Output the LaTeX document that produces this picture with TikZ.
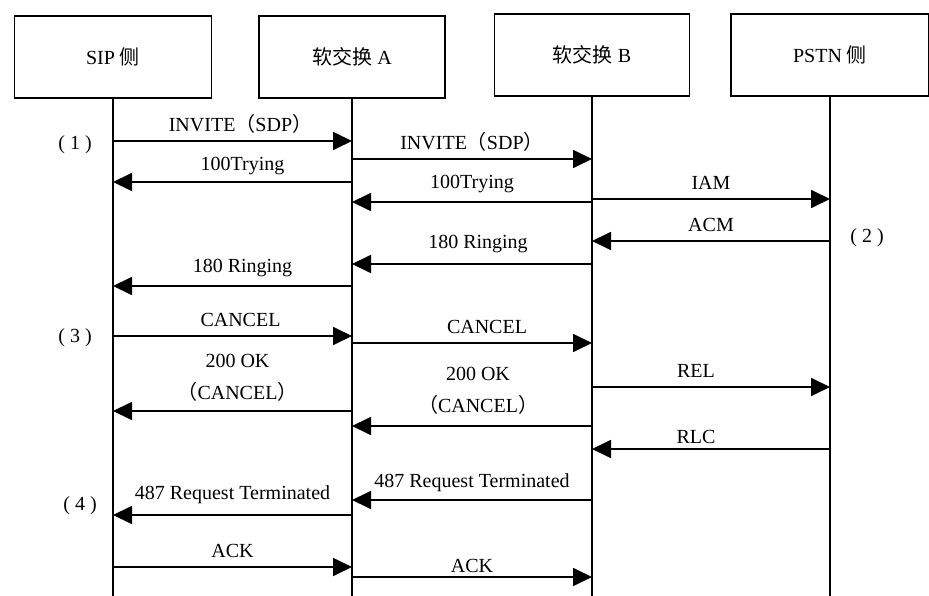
\documentclass[tikz,border=0pt]{standalone}
\usepackage{fontspec}
\setmainfont{Liberation Serif}
\newfontfamily\cjk{Noto Sans CJK SC}
\usetikzlibrary{arrows.meta}
\newcommand{\lpar}{{\cjk （}}
\newcommand{\rpar}{{\cjk ）}}
\begin{document}
\begin{tikzpicture}[x=1pt,y=-1pt,
  every node/.style={font=\fontsize{20}{32}\selectfont},
  party/.style={draw,line width=1.3pt,minimum height=82pt},
  life/.style={line width=1.4pt},
  msg/.style={line width=1.8pt,-{Triangle[length=19pt,width=18pt]}},
  lbl/.style={above=3pt,inner sep=2pt,text height=13pt,text depth=4pt},
  lbltwo/.style={above=3pt,inner sep=2pt,align=center}]
\useasboundingbox (0,0) rectangle (929,596);
\node[party,minimum width=197pt] (sip) at (113,57) {SIP {\cjk 侧}};
\node[party,minimum width=186pt] (swa) at (352,57) {{\cjk 软交换} A};
\node[party,minimum width=195pt] (swb) at (592,55) {{\cjk 软交换} B};
\node[party,minimum width=198pt] (pstn) at (830,55) {PSTN {\cjk 侧}};
\foreach \p in {sip,swa,swb,pstn}
  \draw[life] (\p.south) -- (\p |- 0,596);
\node (n1) at (75,145) {( 1 )};
\node (n2) at (867,238) {( 2 )};
\node (n3) at (75,338) {( 3 )};
\node (n4) at (80,506) {( 4 )};
\draw[msg] (sip |- 0,141) -- node[lbl,xshift=8pt] {INVITE\lpar SDP\rpar} (swa |- 0,141);
\draw[msg] (swa |- 0,159) -- node[lbl] {INVITE\lpar SDP\rpar} (swb |- 0,159);
\draw[msg] (swa |- 0,182) -- node[lbl,xshift=10pt,yshift=2pt] {100Trying} (sip |- 0,182);
\draw[msg] (swb |- 0,202) -- node[lbl,yshift=4pt] {100Trying} (swa |- 0,202);
\draw[msg] (swb |- 0,199) -- node[lbl] {IAM} (pstn |- 0,199);
\draw[msg] (pstn |- 0,241) -- node[lbl] {ACM} (swb |- 0,241);
\draw[msg] (swb |- 0,264) -- node[lbl,xshift=6pt,yshift=6pt] {180 Ringing} (swa |- 0,264);
\draw[msg] (swa |- 0,286) -- node[lbl,xshift=10pt,yshift=4pt] {180 Ringing} (sip |- 0,286);
\draw[msg] (sip |- 0,336) -- node[lbl,xshift=8pt] {CANCEL} (swa |- 0,336);
\draw[msg] (swa |- 0,343) -- node[lbl,xshift=15pt] {CANCEL} (swb |- 0,343);
\draw[msg] (swa |- 0,411) -- node[lbltwo,xshift=5pt,yshift=4pt] {200 OK\\\lpar CANCEL\rpar} (sip |- 0,411);
\draw[msg] (swb |- 0,387) -- node[lbl,xshift=-15pt] {REL} (pstn |- 0,387);
\draw[msg] (swb |- 0,426) -- node[lbltwo,xshift=6pt,yshift=6pt] {200 OK\\\lpar CANCEL\rpar} (swa |- 0,426);
\draw[msg] (pstn |- 0,449) -- node[lbl,xshift=-15pt,yshift=-4pt] {RLC} (swb |- 0,449);
\draw[msg] (swb |- 0,500) -- node[lbl,yshift=3pt] {487 Request Terminated} (swa |- 0,500);
\draw[msg] (swa |- 0,515) -- node[lbl,yshift=6pt] {487 Request Terminated} (sip |- 0,515);
\draw[msg] (sip |- 0,567) -- node[lbl] {ACK} (swa |- 0,567);
\draw[msg] (swa |- 0,577) -- node[lbl,yshift=-5pt] {ACK} (swb |- 0,577);
\end{tikzpicture}
\end{document}
